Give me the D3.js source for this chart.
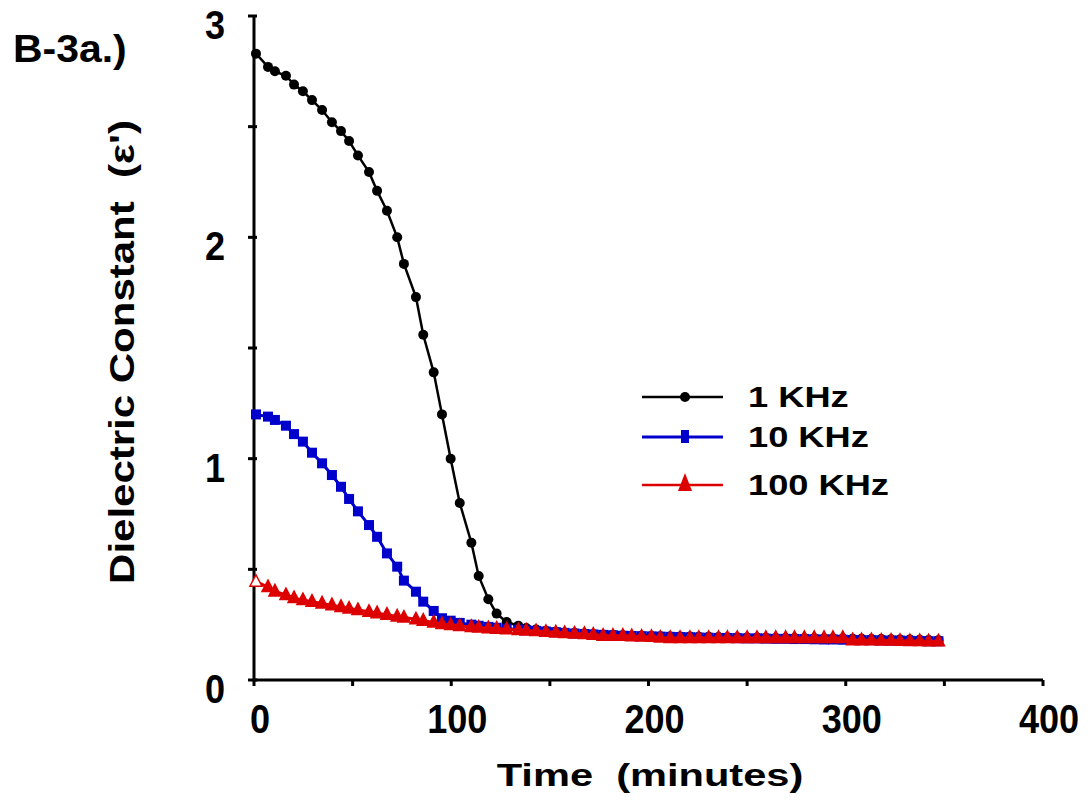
<!DOCTYPE html>
<html>
<head>
<meta charset="utf-8">
<script src="https://cdn.jsdelivr.net/npm/d3@7"></script>
<style>
  body { margin: 0; background: #fff; }
  text { font-family: "Liberation Sans", Arial, sans-serif; font-weight: bold; fill: #000; white-space: pre; }
</style>
</head>
<body>
<svg id="chart" width="1092" height="804"></svg>
<script>
// time of each reading (minutes), shared by the three frequencies
var times = [1, 7.1, 10.6, 16.2, 20.3, 24.8, 29.4, 34.5, 39.5, 44.1, 48.2, 52.7, 58.3, 62.4, 67.4,
  72.6, 76, 82.1, 85.8, 91.1, 95.3, 99.7, 104.3, 110.2, 113.9, 118.8, 123, 128.1, 134,
  138, 143, 148, 153, 157.5, 162.5, 167.5, 172, 177, 182, 187, 191.5, 196.5, 201.5, 206,
  211, 216, 221, 225.5, 230.5, 235.5, 240, 245, 250, 255, 259.5, 264.5, 269.5, 274, 279,
  284, 289, 293.5, 298.5, 303.5, 308, 313, 318, 323, 327.5, 332.5, 337.5, 342, 347];

var khz1 = [2.83, 2.77, 2.75, 2.73, 2.69, 2.66, 2.62, 2.575, 2.52, 2.48, 2.435, 2.37, 2.295, 2.21, 2.12,
  2.00, 1.88, 1.73, 1.56, 1.39, 1.20, 1.00, 0.80, 0.62, 0.47, 0.365, 0.30, 0.262, 0.245,
  0.235, 0.228, 0.222, 0.218, 0.214, 0.212, 0.21, 0.207, 0.205, 0.204, 0.202, 0.2, 0.2, 0.199, 0.198,
  0.197, 0.196, 0.196, 0.195, 0.195, 0.194, 0.193, 0.193, 0.192, 0.192, 0.191, 0.19, 0.19, 0.19, 0.189,
  0.189, 0.188, 0.188, 0.187, 0.186, 0.186, 0.185, 0.185, 0.184, 0.183, 0.183, 0.182, 0.181, 0.18];

var khz10 = [1.20, 1.19, 1.175, 1.149, 1.111, 1.077, 1.027, 0.979, 0.926, 0.873, 0.818, 0.762, 0.70, 0.647, 0.572,
  0.512, 0.449, 0.399, 0.354, 0.312, 0.279, 0.268, 0.258, 0.25, 0.245, 0.24, 0.236, 0.232, 0.228,
  0.225, 0.222, 0.219, 0.216, 0.213, 0.21, 0.208, 0.206, 0.204, 0.202, 0.2, 0.199, 0.198, 0.197, 0.196,
  0.195, 0.194, 0.193, 0.192, 0.191, 0.19, 0.19, 0.189, 0.188, 0.188, 0.187, 0.186, 0.186, 0.185, 0.185,
  0.184, 0.183, 0.183, 0.182, 0.181, 0.18, 0.18, 0.179, 0.178, 0.178, 0.177, 0.176, 0.175, 0.175];

var khz100 = [0.444, 0.42, 0.40, 0.384, 0.37, 0.361, 0.354, 0.346, 0.338, 0.33, 0.323, 0.316, 0.308, 0.302, 0.295,
  0.287, 0.282, 0.274, 0.268, 0.26, 0.253, 0.248, 0.244, 0.24, 0.237, 0.234, 0.232, 0.229, 0.226,
  0.224, 0.221, 0.218, 0.215, 0.212, 0.21, 0.208, 0.205, 0.2, 0.2, 0.2, 0.198, 0.196, 0.195, 0.192,
  0.19, 0.19, 0.19, 0.19, 0.19, 0.19, 0.19, 0.19, 0.19, 0.19, 0.19, 0.19, 0.19, 0.19, 0.19,
  0.19, 0.19, 0.19, 0.19, 0.18, 0.18, 0.18, 0.178, 0.178, 0.177, 0.176, 0.176, 0.175, 0.175];

var seriesNames = ["1 KHz", "10 KHz", "100 KHz"];
var seriesColors = ["#000000", "#0000cc", "#dd0000"];
var xTicks = [0, 100, 200, 300, 400];
var yTicks = [0, 1, 2, 3];

var svg = d3.select("#chart");

var x = d3.scaleLinear().domain([0, 400]).range([254, 1043]);
var y = d3.scaleLinear().domain([0, 3]).range([680, 16]);

// stretched bold text, the original figure was scaled unevenly
function label(g, str, px, py, size, sx, anchor, rot) {
  var t = "translate(" + px + "," + py + ")";
  if (rot) t += " rotate(" + rot + ")";
  t += " scale(" + sx + ",1)";
  return g.append("text")
    .attr("transform", t)
    .attr("text-anchor", anchor)
    .style("font-size", size + "px")
    .text(str);
}

// axes
var axes = svg.append("g");
axes.append("line")
  .attr("x1", x(0)).attr("x2", x(400))
  .attr("y1", y(0)).attr("y2", y(0))
  .attr("stroke", "#000").attr("stroke-width", 3);
axes.append("line")
  .attr("x1", x(0)).attr("x2", x(0))
  .attr("y1", y(0) + 1.5).attr("y2", y(3))
  .attr("stroke", "#000").attr("stroke-width", 3);

axes.selectAll(".xtick")
  .data(d3.range(0, 401, 50))
  .enter().append("line")
  .attr("class", "xtick")
  .attr("x1", d => x(d)).attr("x2", d => x(d))
  .attr("y1", y(0)).attr("y2", y(0) + 6)
  .attr("stroke", "#000").attr("stroke-width", 3);

axes.selectAll(".ytick")
  .data(d3.range(0, 3.01, 0.5))
  .enter().append("line")
  .attr("class", "ytick")
  .attr("x1", x(0) - 6).attr("x2", x(0) + 3)
  .attr("y1", d => y(d)).attr("y2", d => y(d))
  .attr("stroke", "#000").attr("stroke-width", 3);

xTicks.forEach(function (v) {
  label(axes, v, x(v) + 6, y(0) + 53, 41, 0.88, "middle");
});
yTicks.forEach(function (v) {
  label(axes, v, 225, y(v) + 23, 41, 0.88, "end");
});

label(svg, "Time  (minutes)", 650, 786, 32, 1.3, "middle");
label(svg, "Dielectric Constant  (\u03b5')", 134, 352, 35, 1.2, "middle", -90);
label(svg, "B-3a.)", 13, 62, 39, 1.05, "start");

// series
var allSeries = [khz1, khz10, khz100];
var plot = svg.append("g");
var line = d3.line()
  .x((d, i) => x(times[i]))
  .y(d => y(d));

allSeries.forEach(function (vals, s) {
  var g = plot.append("g");
  g.append("path")
    .datum(vals)
    .attr("d", line)
    .attr("fill", "none")
    .attr("stroke", seriesColors[s])
    .attr("stroke-width", s == 0 ? 2.5 : 3);

  var pts = g.selectAll(".pt")
    .data(vals)
    .enter();
  if (s == 0) {
    pts.append("circle")
      .attr("cx", (d, i) => x(times[i]))
      .attr("cy", d => y(d))
      .attr("r", 5)
      .attr("fill", seriesColors[s]);
  } else if (s == 1) {
    pts.append("rect")
      .attr("x", (d, i) => x(times[i]) - 5)
      .attr("y", d => y(d) - 5)
      .attr("width", 10).attr("height", 10)
      .attr("fill", seriesColors[s]);
  } else {
    pts.append("path")
      .attr("transform", (d, i) => "translate(" + x(times[i]) + "," + y(d) + ")")
      .attr("d", "M0,-7L6,4.5L-6,4.5Z")
      .attr("fill", (d, i) => i == 0 ? "#fff" : seriesColors[s])
      .attr("stroke", seriesColors[s])
      .attr("stroke-width", 1.5);
  }
});

// legend
var legendY = [397, 437, 485];
var legend = svg.append("g");
seriesNames.forEach(function (name, i) {
  legend.append("line")
    .attr("x1", 642).attr("x2", 723)
    .attr("y1", legendY[i]).attr("y2", legendY[i])
    .attr("stroke", seriesColors[i]).attr("stroke-width", i == 1 ? 3 : 2.5);
  if (i == 0) {
    legend.append("circle").attr("cx", 685).attr("cy", legendY[i]).attr("r", 5).attr("fill", seriesColors[i]);
  } else if (i == 1) {
    legend.append("rect").attr("x", 681).attr("y", legendY[i] - 7).attr("width", 8).attr("height", 13)
      .attr("fill", seriesColors[i]);
  } else {
    legend.append("path")
      .attr("transform", "translate(685," + legendY[i] + ")")
      .attr("d", "M0,-12L7,6L-7,6Z")
      .attr("fill", seriesColors[i]);
  }
  label(legend, name, 748, legendY[i] + 10, 29, 1.25, "start");
});
</script>
</body>
</html>
